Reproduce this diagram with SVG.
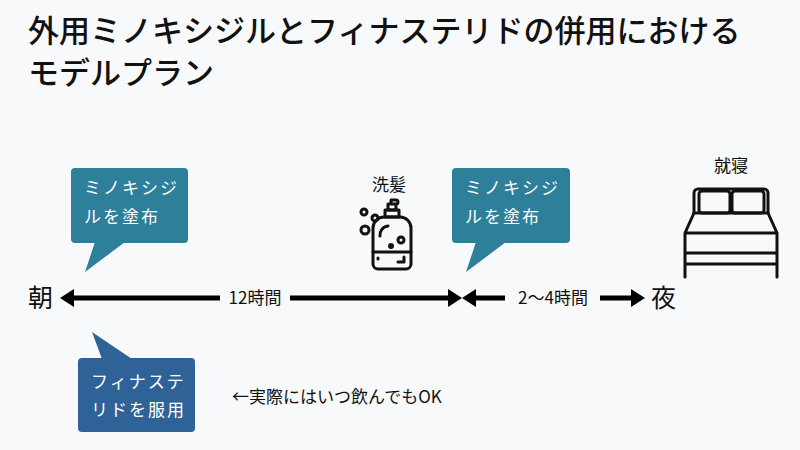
<svg xmlns="http://www.w3.org/2000/svg" width="800" height="450" viewBox="0 0 800 450">
<style>
text{font-family:"Noto Sans CJK JP","Noto Sans",sans-serif;fill:#111}
.t{font-size:31px;font-weight:500}
.w{fill:#fff;font-size:17px;letter-spacing:2px}
.s{font-size:17px}
.ln{stroke:#000;stroke-width:5;fill:none}
.ic{stroke:#111;stroke-width:3;fill:none;stroke-linecap:round;stroke-linejoin:round}
</style>
<rect width="800" height="450" fill="#f8f9fa"/>
<text class="t" x="28" y="42">外用ミノキシジルとフィナステリドの併用における</text>
<text class="t" x="28" y="84">モデルプラン</text>
<g id="morning"><text x="28" y="307" font-size="25">朝</text></g>
<g id="night"><text x="651" y="307" font-size="25">夜</text></g>
<g id="connectors">
<line class="ln" x1="72" y1="298" x2="220" y2="298"/>
<polygon points="60,298 74,289 74,307"/>
<line class="ln" x1="290" y1="298" x2="450" y2="298"/>
<polygon points="462,298 448,289 448,307"/>
<polygon points="462,298 476,289 476,307"/>
<line class="ln" x1="474" y1="298" x2="505" y2="298"/>
<line class="ln" x1="600" y1="298" x2="632" y2="298"/>
<polygon points="645,298 631,289 631,307"/>
<text class="s" x="255" y="304" text-anchor="middle">12時間</text>
<text class="s" x="553" y="304" text-anchor="middle">2～4時間</text>
</g>
<g id="call1">
<rect x="71" y="168" width="117" height="75" rx="4" fill="#2e7f9a"/>
<polygon points="95,242 85,272 125,242" fill="#2e7f9a"/>
<text class="w" x="84" y="194">ミノキシジ</text>
<text class="w" x="84" y="223">ルを塗布</text>
</g>
<g id="call2">
<rect x="452" y="168" width="118" height="75" rx="4" fill="#2e7f9a"/>
<polygon points="476,242 466,272 506,242" fill="#2e7f9a"/>
<text class="w" x="465" y="194">ミノキシジ</text>
<text class="w" x="465" y="223">ルを塗布</text>
</g>
<g id="call3">
<rect x="78" y="358" width="117" height="74" rx="4" fill="#2f6296"/>
<polygon points="92,332 102,359 132,359" fill="#2f6296"/>
<text class="w" x="91" y="388">フィナステ</text>
<text class="w" x="91" y="416">リドを服用</text>
</g>
<text class="s" x="232" y="403">←実際にはいつ飲んでもOK</text>
<g id="shampoo">
<text class="s" x="389" y="191" text-anchor="middle" font-size="15">洗髪</text>
<g class="ic" stroke-width="2.5">
<circle cx="364" cy="212" r="3"/><circle cx="375" cy="218" r="3"/><circle cx="365" cy="230" r="4"/>
<path d="M388,210 v-6 h8 v6z M391,204 v-4 h5 a2,2 0 0 1 0,4"/>
<path d="M385,210 h14 v7 h-14z"/>
<path d="M384,217 h16 a11,11 0 0 1 11,11 v36 a5,5 0 0 1 -5,5 h-28 a5,5 0 0 1 -5,-5 v-36 a11,11 0 0 1 11,-11z"/>
<path d="M373,252 h38"/>
<circle cx="401" cy="240" r="3"/><circle cx="391" cy="246" r="1.5"/>
<path d="M380,236 a9,9 0 0 1 8,-10"/>
<path d="M378,258 v1 M398,262 h6 v-5"/>
</g>
</g>
<g id="bed">
<text class="s" x="731" y="172" text-anchor="middle" font-size="15">就寝</text>
<g class="ic" stroke-width="3.5">
<rect x="699" y="191" width="31" height="22" rx="3"/>
<rect x="732" y="191" width="32" height="22" rx="3"/>
<path d="M694,213 v-20 a4,4 0 0 1 4,-4 h66 a4,4 0 0 1 4,4 v20"/>
<path d="M694,213 h74 l9,20 v44 M694,213 l-9,20 v44 M685,233 h92 M685,253 h92 M685,264 h92"/>
</g>
</g>
</svg>
